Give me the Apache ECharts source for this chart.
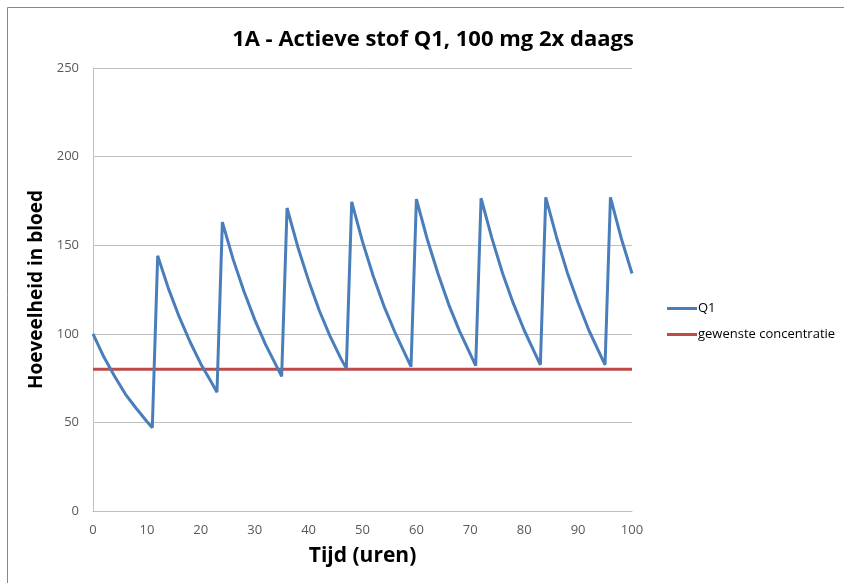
<!DOCTYPE html>
<html>
<head>
<meta charset="utf-8">
<script src="https://cdn.jsdelivr.net/npm/echarts@6/dist/echarts.min.js"></script>
<style>html,body{margin:0;padding:0;background:#fff}#c{width:844px;height:583px}</style>
</head>
<body>
<div id="c"></div>
<script>
// Data
var hours = [0,2,4,6,8,10,11,12,14,16,18,20,22,23,24,26,28,30,32,34,35,36,38,40,42,44,46,47,48,50,52,54,56,58,59,60,62,64,66,68,70,71,72,74,76,78,80,82,83,84,86,88,90,92,94,95,96,98,100];
var q1 = [100,87,76,66,58,50.5,47,144,125.5,109.5,95.5,83,72.5,67,163,142,124,108,94,82,76,171,149,130,113,98.5,86,80.5,174.5,152,132.5,115.5,101,88,81.5,176,153.5,134,116.5,101.5,88.5,82,176.5,154,134,117,102,89,82.5,177,154.5,134.5,117.5,102,89,82.5,177,154,134];
var targetHours = [0, 100];
var targetValue = [80, 80];
var yTicks = [0, 50, 100, 150, 200, 250];

var q1Data = hours.map(function(h, i){ return [h, q1[i]]; });
var targetData = targetHours.map(function(h, i){ return [h, targetValue[i]]; });

var chart = echarts.init(document.getElementById('c'), null, {renderer: 'canvas'});
var font = '"Open Sans", "Noto Sans", sans-serif';
chart.setOption({
  animation: false,
  backgroundColor: '#fff',
  title: {
    text: '1A - Actieve stof Q1, 100 mg 2x daags',
    left: 428, top: 24, textAlign: 'center',
    textStyle: {fontFamily: font, fontSize: 22, fontWeight: 'bold', color: '#000'}
  },
  graphic: [{
    type: 'rect', shape: {x: 7.5, y: 7.5, width: 900, height: 600},
    style: {fill: 'none', stroke: '#888', lineWidth: 1}, silent: true, z: -1
  }],
  legend: {
    orient: 'vertical', left: 662, top: 297, itemGap: 13,
    itemWidth: 30, itemHeight: 3, icon: 'rect',
    textStyle: {fontFamily: font, fontSize: 13, color: '#000', padding: [0, 0, 0, -4]},
    data: ['Q1', 'gewenste concentratie']
  },
  grid: {left: 93, right: 212, top: 68, bottom: 72},
  xAxis: {
    type: 'value', min: 0, max: 100, interval: 10,
    name: 'Tijd (uren)', nameLocation: 'middle', nameGap: 35,
    nameTextStyle: {fontFamily: font, fontSize: 21, fontWeight: 'bold', color: '#000'},
    axisLine: {show: true, lineStyle: {color: '#bfbfbf', width: 1}},
    axisTick: {show: false},
    splitLine: {show: false},
    axisLabel: {fontFamily: font, fontSize: 13, color: '#595959', margin: 13}
  },
  yAxis: {
    type: 'value', min: 0, max: 250, interval: 50,
    name: 'Hoeveelheid in bloed', nameLocation: 'middle', nameGap: 43,
    nameTextStyle: {fontFamily: font, fontSize: 19, fontWeight: 'bold', color: '#000'},
    axisLine: {show: true, lineStyle: {color: '#bfbfbf', width: 1}},
    axisTick: {show: false},
    splitLine: {show: true, lineStyle: {color: '#bfbfbf', width: 1}},
    axisLabel: {fontFamily: font, fontSize: 13, color: '#595959', margin: 14,
      formatter: function(v){ return yTicks.indexOf(v) >= 0 ? String(v) : ''; }}
  },
  series: [
    {name: 'Q1', type: 'line', data: q1Data, showSymbol: false, symbol: 'none',
     lineStyle: {color: '#4a7ebb', width: 3}, itemStyle: {color: '#4a7ebb'}, z: 3},
    {name: 'gewenste concentratie', type: 'line', data: targetData, showSymbol: false, symbol: 'none',
     lineStyle: {color: '#be4b48', width: 3}, itemStyle: {color: '#be4b48'}, z: 2}
  ]
});
</script>
</body>
</html>
